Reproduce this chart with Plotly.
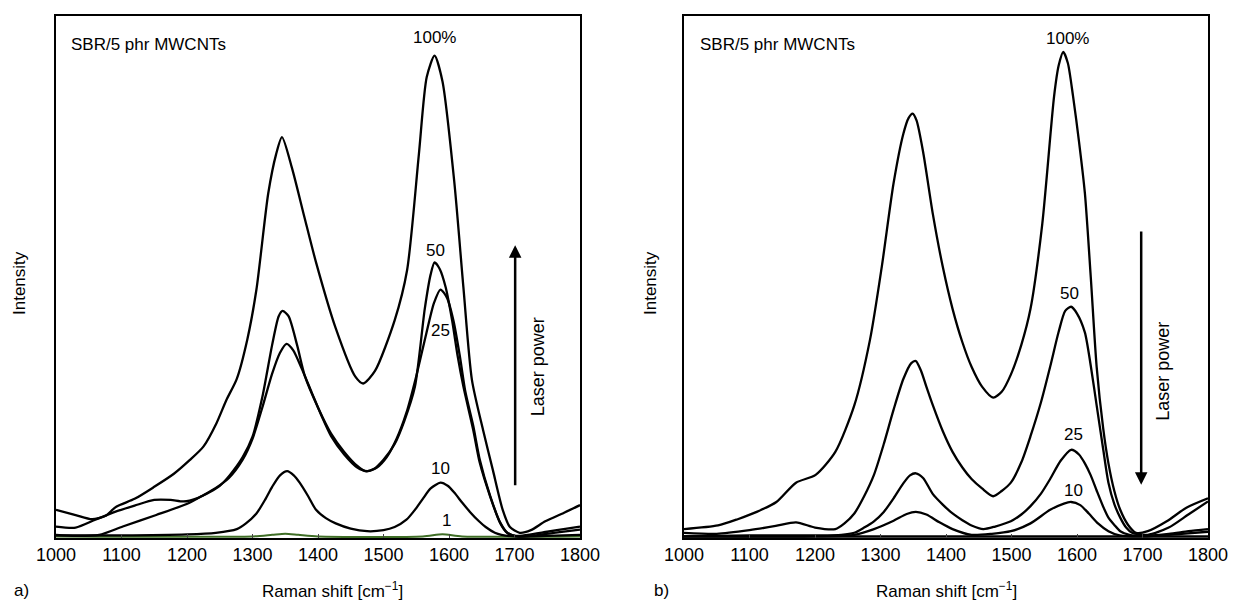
import plotly.graph_objects as go

# ---------------- data ----------------
# Panel a)
a100_x = [1000,1030,1055,1075,1092,1120,1150,1180,1204,1225,1245,1260,1276,1292,1306,1324,1336,1345,1360,1379,1397,1427,1457,1469,1487,1517,1536,1554,1566,1578,1590,1608,1622,1635,1652,1667,1682,1693,1708,1725,1747,1775,1800]
a100_y = [5.4,4.4,3.6,4.2,6.0,7.5,9.8,12.3,14.9,17.5,22.0,26.4,30.5,38.0,47.6,66.0,73.5,76.8,71.0,61.6,52.8,40.2,30.9,29.6,32.0,41.7,51.3,73.5,88.3,92.4,87.5,68.3,48.0,30.3,20.7,13.0,5.4,2.1,1.0,1.5,3.2,4.8,6.3]

a50_x = [1000,1030,1060,1090,1120,1150,1175,1195,1215,1235,1250,1265,1285,1300,1315,1330,1340,1346,1355,1368,1380,1400,1420,1440,1460,1472,1485,1500,1517,1532,1548,1563,1572,1578,1586,1595,1605,1613,1622,1637,1647,1663,1678,1688,1700,1720,1750,1780,1800]
a50_y = [2.2,2.0,3.5,5.0,6.2,7.3,7.3,7.0,7.6,8.8,10.0,12.0,15.5,19.4,27.0,37.0,42.5,43.5,42.5,37.0,31.0,25.0,20.0,16.5,13.8,12.8,13.2,15.0,18.0,22.5,29.0,43.9,50.5,52.8,51.5,48.0,41.5,35.0,29.0,20.7,14.4,7.9,2.9,1.1,0.4,0.6,1.2,1.8,2.2]

a25_x = [1000,1030,1066,1102,1153,1203,1225,1244,1264,1285,1300,1315,1330,1342,1352,1362,1375,1390,1405,1420,1440,1460,1475,1490,1505,1520,1535,1550,1565,1577,1587,1597,1607,1617,1625,1637,1647,1663,1678,1690,1705,1730,1760,1800]
a25_y = [0.6,0.4,0.6,2.2,4.4,6.7,8.2,9.6,11.5,15.0,19.0,25.0,31.5,35.5,37.2,36.0,32.5,28.0,23.5,19.5,16.0,13.5,12.8,13.5,15.5,19.0,24.0,31.0,39.0,45.0,47.6,46.0,41.5,34.5,28.0,21.5,15.0,8.0,3.0,0.9,0.3,0.5,1.0,1.6]

a10_x = [1000,1100,1200,1244,1276,1290,1306,1320,1330,1342,1353,1363,1372,1385,1397,1412,1427,1450,1475,1500,1517,1535,1548,1560,1572,1587,1598,1608,1620,1632,1645,1656,1670,1680,1700,1750,1800]
a10_y = [0.5,0.5,0.7,1.0,1.7,2.8,4.7,7.5,9.8,12.0,12.8,12.0,10.6,8.0,5.4,3.8,2.8,1.8,1.3,1.5,2.1,3.5,5.4,7.5,9.5,10.6,10.0,8.7,6.8,5.0,3.3,2.1,1.0,0.6,0.3,0.4,0.6]

a1_x = [1000,1300,1330,1350,1370,1400,1560,1590,1620,1800]
a1_y = [0.3,0.3,0.6,0.8,0.6,0.3,0.3,0.7,0.3,0.3]

# Panel b)
b100_x = [1000,1052,1082,1111,1141,1171,1201,1231,1260,1284,1302,1320,1335,1343,1349,1355,1365,1380,1395,1410,1425,1439,1455,1472,1485,1499,1515,1529,1547,1565,1572,1579,1586,1594,1603,1612,1621,1630,1640,1648,1657,1666,1678,1690,1708,1737,1767,1800]
b100_y = [1.7,2.4,3.6,5.0,6.9,10.6,12.1,16.5,25.4,38.0,52.0,68.0,77.5,80.5,81.3,80.0,74.0,62.0,52.0,43.9,37.5,32.8,29.0,26.9,28.0,31.3,37.0,43.9,60.2,84.6,90.5,93.1,91.0,84.6,76.0,66.1,50.0,32.8,21.0,14.3,9.0,5.4,2.5,1.0,1.3,3.2,5.8,7.6]

b50_x = [1000,1050,1100,1140,1171,1200,1231,1245,1260,1275,1290,1305,1320,1335,1347,1354,1362,1370,1380,1395,1410,1425,1439,1455,1472,1485,1499,1515,1529,1545,1559,1572,1582,1591,1600,1612,1621,1630,1640,1648,1657,1666,1675,1684,1708,1740,1770,1800]
b50_y = [1.0,0.8,1.5,2.3,3.0,2.0,1.7,2.8,4.7,8.0,12.1,18.0,24.6,30.5,33.5,33.9,32.0,29.0,25.4,20.5,16.5,13.5,11.3,9.5,8.0,9.0,10.6,14.5,19.5,26.0,32.8,39.5,43.5,44.3,43.0,39.4,33.0,25.4,17.0,10.6,6.5,3.9,2.0,1.0,0.6,2.0,4.5,7.0]

b25_x = [1000,1100,1200,1240,1260,1275,1290,1305,1320,1335,1345,1354,1365,1380,1395,1410,1425,1439,1457,1475,1499,1515,1529,1545,1559,1575,1591,1603,1612,1621,1630,1640,1648,1657,1666,1680,1700,1740,1770,1800]
b25_y = [0.3,0.5,0.5,0.6,1.0,2.0,3.2,5.0,7.6,10.5,12.0,12.4,11.5,8.4,6.4,4.7,3.4,2.4,1.7,2.2,3.2,4.5,6.1,8.5,11.3,14.8,16.9,16.0,14.3,12.0,9.1,6.0,3.9,2.5,1.3,0.6,0.4,0.8,1.3,1.7]

b10_x = [1000,1200,1260,1290,1320,1340,1354,1370,1390,1410,1439,1470,1499,1529,1559,1580,1591,1605,1618,1632,1648,1665,1700,1760,1800]
b10_y = [0.3,0.3,0.6,1.7,3.3,4.6,5.0,4.5,3.0,1.7,0.6,0.8,1.3,2.8,5.4,6.6,6.9,6.3,4.7,2.8,1.3,0.5,0.3,0.8,1.2]

b1_x = [1000,1800]
b1_y = [0.3,0.3]

x_ticks = [1000,1100,1200,1300,1400,1500,1600,1700,1800]

# ---------------- figure ----------------
W, H = 1234, 604
FONT = "Liberation Sans, Arial, sans-serif"
fig = go.Figure()

def add_line(x, y, ax, color="black", width=2.3):
    fig.add_trace(go.Scatter(x=x, y=y, mode="lines", xaxis=ax[0], yaxis=ax[1],
                             line=dict(color=color, width=width, shape="spline", smoothing=0.7),
                             showlegend=False, hoverinfo="skip"))

A = ("x", "y")
B = ("x2", "y2")
add_line(a1_x, a1_y, A, color="#3f6e26", width=2)
for xs, ys in [(a10_x, a10_y), (a25_x, a25_y), (a50_x, a50_y), (a100_x, a100_y)]:
    add_line(xs, ys, A)
add_line(b1_x, b1_y, B, width=2.5)
for xs, ys in [(b10_x, b10_y), (b25_x, b25_y), (b50_x, b50_y), (b100_x, b100_y)]:
    add_line(xs, ys, B)

axis_common = dict(range=[1000, 1800], tickvals=x_ticks, ticks="inside", ticklen=4,
                   showline=True, mirror=True, linecolor="black", linewidth=1.5,
                   showgrid=False, zeroline=False, automargin=False,
                   tickfont=dict(family=FONT, size=18, color="black"))
yaxis_common = dict(range=[0, 100], showticklabels=False, ticks="", showline=True, mirror=True,
                    linecolor="black", linewidth=1.5, showgrid=False, zeroline=False,
                    automargin=False)

fig.update_layout(
    width=W, height=H,
    margin=dict(l=0, r=0, t=16, b=66, autoexpand=False),
    paper_bgcolor="white", plot_bgcolor="white",
    font=dict(family=FONT, size=17, color="black"),
    xaxis=dict(domain=[56 / W, 580 / W], anchor="y", **axis_common),
    yaxis=dict(domain=[0, 1], anchor="x", **yaxis_common),
    xaxis2=dict(domain=[684 / W, 1208 / W], anchor="y2", **axis_common),
    yaxis2=dict(domain=[0, 1], anchor="x2", **yaxis_common),
)

def txt(text, x, y, xref, yref, size=17, xanchor="center", yanchor="middle", angle=0):
    fig.add_annotation(text=text, x=x, y=y, xref=xref, yref=yref, showarrow=False,
                       xanchor=xanchor, yanchor=yanchor, textangle=angle,
                       font=dict(family=FONT, size=size, color="black"))

# panel a texts
txt("SBR/5 phr MWCNTs", 1020, 94.6, "x", "y", xanchor="left")
txt("100%", 1578, 95.8, "x", "y")
txt("50", 1580, 55.0, "x", "y")
txt("25", 1587, 39.8, "x", "y")
txt("10", 1587, 13.4, "x", "y")
txt("1", 1596, 3.4, "x", "y")
txt("Laser power", 1735, 32.8, "x", "y", angle=-90, size=18)
# panel b texts
txt("SBR/5 phr MWCNTs", 1022, 94.6, "x2", "y2", xanchor="left")
txt("100%", 1585, 95.7, "x2", "y2")
txt("50", 1588, 46.8, "x2", "y2")
txt("25", 1594, 19.8, "x2", "y2")
txt("10", 1594, 9.1, "x2", "y2")
txt("Laser power", 1731, 32.0, "x2", "y2", angle=-90, size=18)

# arrows
fig.add_annotation(x=1701, y=56.1, ax=1701, ay=9.8, xref="x", yref="y", axref="x", ayref="y",
                   showarrow=True, arrowhead=2, arrowsize=1, arrowwidth=2.5, arrowcolor="black", text="")
fig.add_annotation(x=1698, y=10.2, ax=1698, ay=59.0, xref="x2", yref="y2", axref="x2", ayref="y2",
                   showarrow=True, arrowhead=2, arrowsize=1, arrowwidth=2.5, arrowcolor="black", text="")

# axis titles and panel letters (paper coords)
def py(p):
    return (538 - p) / 522.0

txt("Intensity", 19 / W, py(283), "paper", "paper", angle=-90)
txt("Intensity", 650 / W, py(283), "paper", "paper", angle=-90)
txt("Raman shift [cm<sup>\u22121</sup>]", 332 / W, py(590), "paper", "paper")
txt("Raman shift [cm<sup>\u22121</sup>]", 946 / W, py(590), "paper", "paper")
txt("a)", 12 / W, py(590), "paper", "paper", xanchor="left")
txt("b)", 652 / W, py(590), "paper", "paper", xanchor="left")

fig.write_html("out.html")
